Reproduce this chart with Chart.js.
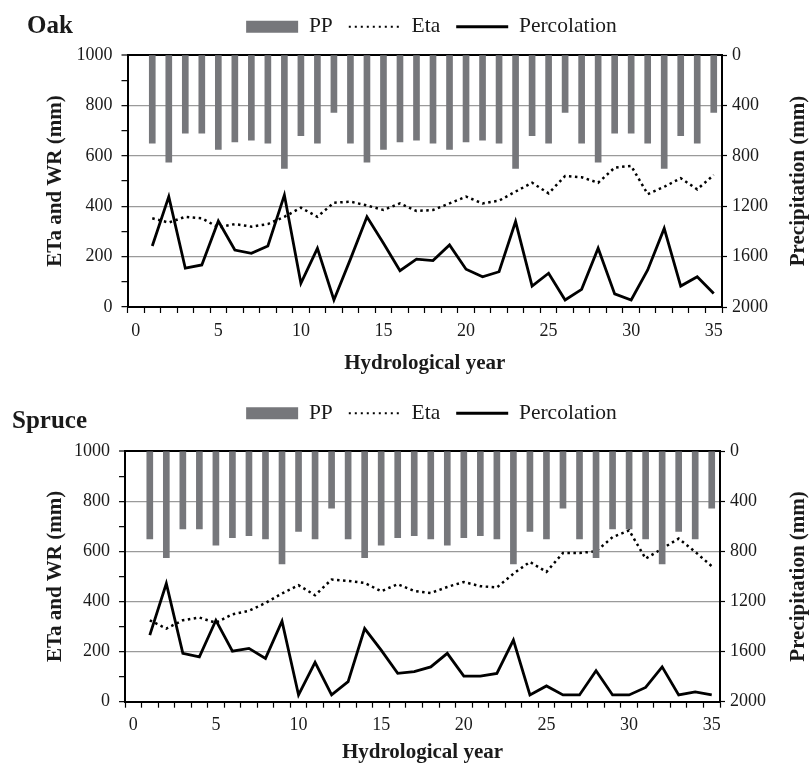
<!DOCTYPE html>
<html>
<head>
<meta charset="utf-8">
<script src="https://cdn.jsdelivr.net/npm/chart.js@4/dist/chart.umd.min.js"></script>
<style>
  html, body { margin: 0; padding: 0; background: #ffffff; }
  #wrap { position: relative; width: 809px; height: 764px; }
  canvas { position: absolute; left: 0; }
</style>
</head>
<body>
<div id="wrap">
  <canvas id="oak" width="809" height="385" style="top:0px"></canvas>
  <canvas id="spruce" width="809" height="379" style="top:385px"></canvas>
</div>
<script>
// ---------- data ----------
const yearLabels = ['0','1','2','3','4','5','6','7','8','9','10','11','12','13','14','15','16','17',
  '18','19','20','21','22','23','24','25','26','27','28','29','30','31','32','33','34','35'];

// Precipitation (mm), years 1..35 (right axis, reversed)
const precipitation = [700, 850, 620, 620, 750, 690, 675, 700, 900, 640,
                       700, 455, 700, 850, 750, 690, 675, 700, 750, 690,
                       675, 700, 900, 640, 700, 455, 700, 850, 620, 620,
                       700, 900, 640, 700, 455];

// Oak
const oakEta = [352, 335, 358, 352, 316, 329, 319, 329, 358, 394,
                358, 414, 418, 403, 385, 411, 381, 385, 411, 438,
                411, 422, 458, 493, 451, 520, 515, 493, 553, 560,
                448, 477, 511, 467, 524];
const oakPercolation = [242, 438, 154, 167, 341, 226, 213, 242, 444, 94,
                        233, 28, 190, 358, 253, 144, 190, 184, 246, 150,
                        120, 140, 339, 83, 134, 28, 70, 233, 52, 28,
                        147, 312, 83, 120, 54];

// Spruce
const spruceEta = [325, 292, 325, 336, 315, 349, 363, 394, 432, 465,
                   425, 488, 482, 474, 441, 469, 442, 434, 458, 478,
                   461, 456, 511, 558, 518, 594, 594, 600, 657, 684,
                   571, 611, 651, 598, 541];
const sprucePercolation = [266, 472, 193, 179, 325, 202, 213, 173, 321, 27,
                           157, 27, 80, 292, 206, 113, 120, 139, 193, 102,
                           102, 113, 246, 27, 63, 27, 27, 124, 27, 27,
                           57, 139, 27, 39, 27];

// ---------- styling ----------
const SERIF = '"Liberation Serif", "Times New Roman", Times, serif';
const TEXT = '#1a1a1a';
const BAR = '#76777b';
const GRID = '#9a9a9a';

const panelDecor = {
  id: 'panelDecor',
  afterDraw(chart, args, opts) {
    const ctx = chart.ctx;
    const ca = chart.chartArea;
    ctx.save();
    ctx.fillStyle = TEXT;
    ctx.font = 'bold 25px ' + SERIF;
    ctx.textAlign = 'left';
    ctx.textBaseline = 'alphabetic';
    ctx.fillText(opts.panel, opts.panelX, opts.panelY);
    ctx.translate(opts.rightTitleX, (ca.top + ca.bottom) / 2);
    ctx.rotate(-Math.PI / 2);
    ctx.font = 'bold 21px ' + SERIF;
    ctx.textAlign = 'center';
    ctx.textBaseline = 'middle';
    ctx.fillText(opts.rightTitle, 0, 0);
    ctx.restore();
  }
};

function makePanel(id, g, eta, perc) {
  return new Chart(document.getElementById(id), {
    type: 'bar',
    data: {
      labels: yearLabels,
      datasets: [
        { type: 'bar', label: 'PP', data: [null, ...precipitation], yAxisID: 'y2',
          backgroundColor: BAR, borderWidth: 0, barThickness: 6 },
        { type: 'line', label: 'Eta', data: [null, ...eta], yAxisID: 'y',
          borderColor: '#000', borderWidth: 2.5, borderDash: [2.5, 3.5],
          pointRadius: 0, tension: 0, fill: false },
        { type: 'line', label: 'Percolation', data: [null, ...perc], yAxisID: 'y',
          borderColor: '#000', borderWidth: 2.8, pointRadius: 0, tension: 0, fill: false }
      ]
    },
    options: {
      responsive: false,
      animation: false,
      devicePixelRatio: 1,
      layout: { padding: { left: 54, right: 0, top: g.top, bottom: 0 } },
      plugins: {
        tooltip: { enabled: false },
        legend: {
          position: 'top',
          align: 'center',
          labels: {
            usePointStyle: true,
            pointStyleWidth: 52,
            boxHeight: 12,
            padding: 16,
            color: TEXT,
            font: { family: SERIF, size: 21.5 },
            generateLabels(chart) {
              return chart.data.datasets.map((ds, i) => {
                const isBar = ds.type === 'bar';
                return {
                  text: ds.label,
                  datasetIndex: i,
                  fillStyle: isBar ? BAR : 'rgba(0,0,0,0)',
                  strokeStyle: '#000',
                  lineWidth: isBar ? 0 : (ds.borderDash ? 2 : 2.8),
                  lineDash: isBar ? [] : (ds.borderDash ? [2, 4] : []),
                  pointStyle: isBar ? 'rect' : 'line',
                  hidden: false,
                  fontColor: TEXT
                };
              });
            }
          }
        },
        title: {
          display: true, text: '', weight: 500,
          font: { size: 1, lineHeight: 1 },
          padding: { top: g.spacer, bottom: 0 }
        },
        panelDecor: {
          panel: g.name, panelX: g.nameX, panelY: g.nameY,
          rightTitle: 'Precipitation (mm)', rightTitleX: 799
        }
      },
      scales: {
        x: {
          type: 'category',
          offset: true,
          grid: { offset: true, drawOnChartArea: false, drawTicks: true,
                  tickLength: 6, tickColor: '#000', tickWidth: 1.2 },
          border: { color: '#000', width: 2 },
          ticks: {
            autoSkip: false, maxRotation: 0, minRotation: 0, padding: 7,
            color: TEXT, font: { family: SERIF, size: 18 },
            callback(v, i) { return i % 5 === 0 ? this.getLabelForValue(v) : ''; }
          },
          title: {
            display: true, text: 'Hydrological year', color: TEXT,
            font: { family: SERIF, size: 21, weight: 'bold' },
            padding: { top: 0, bottom: g.xTitlePad }
          },
          afterFit(s) { s.height = g.xAxisH; }
        },
        y: {
          position: 'left',
          min: 0, max: 1000,
          ticks: {
            stepSize: 100, autoSkip: false, padding: 9,
            color: TEXT, font: { family: SERIF, size: 18 },
            callback(v) { return v % 200 === 0 ? String(v) : ''; }
          },
          grid: {
            color(c) {
              const v = c.tick ? c.tick.value : 0;
              if (v === 1000) return '#000';
              if (v === 0) return 'rgba(0,0,0,0)';
              return v % 200 === 0 ? GRID : 'rgba(0,0,0,0)';
            },
            lineWidth(c) { return (c.tick && c.tick.value === 1000) ? 2 : 1.3; },
            tickColor: '#000', tickWidth: 1.2, tickLength: 6
          },
          border: { color: '#000', width: 2 },
          title: {
            display: true, text: 'ETa and WR (mm)', color: TEXT,
            font: { family: SERIF, size: 21, weight: 'bold' },
            padding: { top: g.yTitlePad, bottom: 0 }
          },
          afterFit(s) { s.width = g.leftW; }
        },
        y2: {
          position: 'right',
          reverse: true,
          min: 0, max: 2000,
          ticks: {
            stepSize: 400, padding: 5, color: TEXT, font: { family: SERIF, size: 18 },
            callback(v) { return String(v); }
          },
          grid: { drawOnChartArea: false, tickColor: '#000', tickWidth: 1.2, tickLength: 5 },
          border: { color: '#000', width: 2 },
          afterFit(s) { s.width = g.rightW; }
        }
      }
    },
    plugins: [panelDecor]
  });
}

makePanel('oak', {
  name: 'Oak', nameX: 27, nameY: 32.7,
  top: 0, spacer: 6.5, leftW: 73.5, rightW: 87, xAxisH: 78, xTitlePad: 9, yTitlePad: -10.6
}, oakEta, oakPercolation);

makePanel('spruce', {
  name: 'Spruce', nameX: 12, nameY: 43.3,
  top: 1.5, spacer: 16.2, leftW: 71, rightW: 89, xAxisH: 62.3, xTitlePad: -1, yTitlePad: -10.6
}, spruceEta, sprucePercolation);
</script>
</body>
</html>
